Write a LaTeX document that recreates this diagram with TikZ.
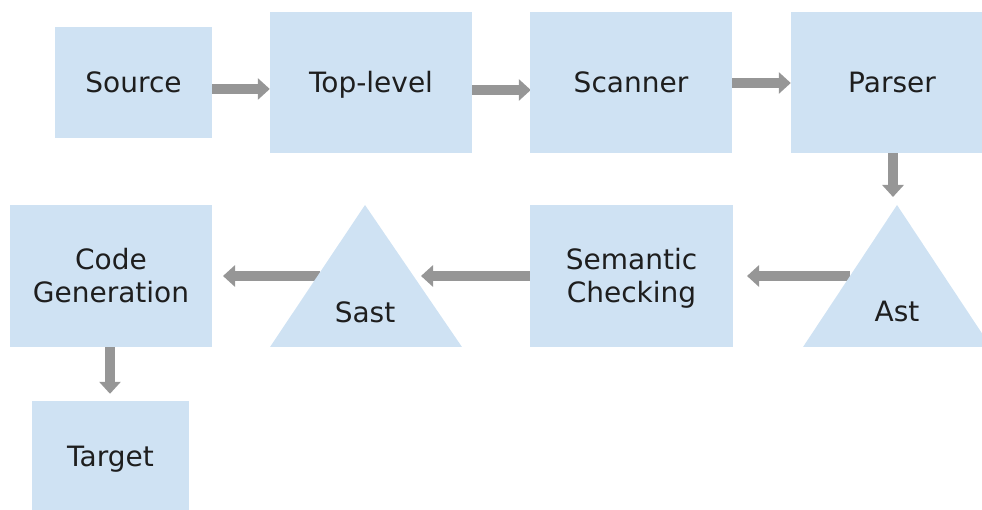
\documentclass[tikz,border=0pt]{standalone}
\usepackage{fontspec}
\setmainfont{DejaVu Sans}
\usetikzlibrary{arrows.meta,backgrounds}
\definecolor{boxblue}{RGB}{207,226,243}
\definecolor{arrowgray}{RGB}{150,150,150}
\definecolor{inkdark}{RGB}{30,30,30}
\tikzset{
  x=1pt, y=-1pt,
  txt/.style={text=inkdark, font=\fontsize{28}{33}\selectfont},
  stage/.style={txt, fill=boxblue, draw=none, inner sep=0pt, align=center},
  oneline/.style={stage, text height=23pt, text depth=3pt},
  twoline/.style={stage, text height=56pt, text depth=3pt},
  label/.style={txt, inner sep=0pt, text height=23pt, text depth=3pt},
  flow/.style={draw=arrowgray, line width=10pt,
    -{Triangle[width=21pt,length=12pt]}, arrowgray},
}
\begin{document}
\begin{tikzpicture}
\useasboundingbox (0,0) rectangle (982,510);
\begin{scope}
\clip (0,0) rectangle (982,510);

% first row of stages
\node[oneline, minimum width=157pt, minimum height=111pt] (src)  at (133.5,82.5) {Source};
\node[oneline, minimum width=202pt, minimum height=141pt] (top)  at (371,82.5)   {Top-level};
\node[oneline, minimum width=202pt, minimum height=141pt] (scan) at (631,82.5)   {Scanner};
\node[oneline, minimum width=202pt, minimum height=141pt] (pars) at (892,82.5)   {Parser};

% tree stages drawn as triangles
\fill[boxblue] (897,205) coordinate (asttop) -- (991,347) -- (803,347) -- cycle;
\node[label] (ast) at (897,312) {Ast};
\fill[boxblue] (365,205) coordinate (sasttop) -- (462,347) -- (270,347) -- cycle;
\node[label] (sast) at (365,313) {Sast};

% second row of boxes
\node[twoline, minimum width=203pt, minimum height=142pt] (sem)  at (631.5,276) {Semantic\\Checking};
\node[twoline, minimum width=202pt, minimum height=142pt] (code) at (111,276)   {Code\\Generation};
\node[oneline, minimum width=157pt, minimum height=111pt] (tgt) at (110.5,456.5) {Target};

% points inside the triangles where the arrows start
\coordinate (astin)  at (850,276);
\coordinate (sastin) at (320,276);
% arrow columns for the two downward links
\coordinate (pcol) at ([xshift=1pt]pars.south);
\coordinate (ccol) at ([xshift=-1pt]code.south);

\begin{pgfonlayer}{background}
\draw[flow] ([yshift=-6.5pt]src.east) -- ([yshift=-6.5pt]top.west);
\draw[flow] ([yshift=-7.5pt]top.east) -- ([xshift=1pt,yshift=-7.5pt]scan.west);
\draw[flow] ([yshift=-0.5pt]scan.east) -- ([yshift=-0.5pt]pars.west);
\draw[flow] (pcol) -- ([yshift=8pt]asttop -| pcol);
\draw[flow] (astin) -- (astin -| 747,0);
\draw[flow] (sem.west |- astin) -- (sastin -| 421,0);
\draw[flow] (sastin) -- (sastin -| 223,0);
\draw[flow] (ccol) -- ([yshift=7pt]tgt.north -| ccol);
\end{pgfonlayer}
\end{scope}
\end{tikzpicture}
\end{document}
